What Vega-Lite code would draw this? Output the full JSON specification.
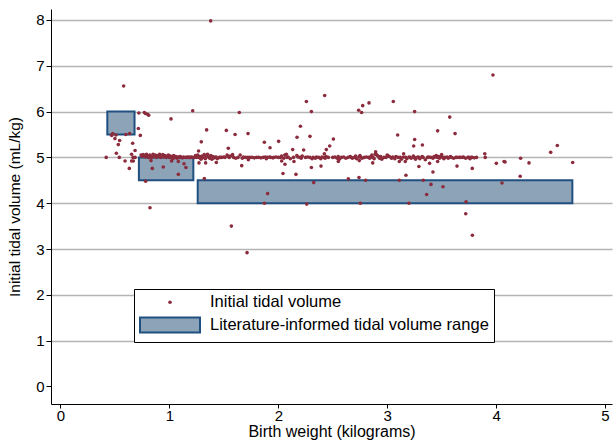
{
  "$schema": "https://vega.github.io/schema/vega-lite/v6.json",
  "width": 561,
  "height": 395,
  "autosize": {"type": "none"},
  "padding": {"left": 51, "top": 9, "right": 2, "bottom": 38},
  "background": "white",
  "config": {
    "view": {"stroke": null},
    "font": "Liberation Sans",
    "legend": {
      "orient": "none",
      "legendX": 83,
      "legendY": 280,
      "fillColor": "white",
      "strokeColor": "black",
      "padding": 5,
      "labelFont": "Liberation Sans",
      "labelFontSize": 16.5,
      "labelColor": "black",
      "labelLimit": 600,
      "symbolOffset": 20,
      "labelOffset": 29,
      "rowPadding": 2,
      "cornerRadius": 0
    }
  },
  "datasets": {
    "ranges": [
      {"x1": 0.43, "x2": 0.68, "y1": 5.5, "y2": 6.0},
      {"x1": 0.72, "x2": 1.22, "y1": 4.5, "y2": 5.0},
      {"x1": 1.26, "x2": 4.70, "y1": 4.0, "y2": 4.5}
    ],
    "pts": [
      {"x":0.74,"y":5.05},{"x":0.75,"y":5.02},{"x":0.76,"y":5.06},{"x":0.77,"y":5.04},{"x":0.78,"y":5.01},{"x":0.79,"y":5.07},{"x":0.80,"y":5.03},{"x":0.81,"y":5.0},{"x":0.82,"y":5.05},{"x":0.83,"y":5.02},{"x":0.84,"y":5.0},{"x":0.85,"y":5.07},{"x":0.86,"y":5.03},{"x":0.87,"y":5.05},{"x":0.88,"y":5.0},{"x":0.89,"y":5.04},{"x":0.90,"y":5.02},{"x":0.91,"y":5.07},{"x":0.92,"y":5.0},{"x":0.93,"y":5.03},{"x":0.94,"y":5.06},{"x":0.95,"y":5.01},{"x":0.96,"y":5.04},{"x":0.97,"y":5.0},{"x":0.98,"y":5.02},{"x":0.99,"y":5.05},{"x":1.00,"y":5.0},{"x":1.01,"y":5.03},{"x":1.02,"y":5.01},{"x":1.03,"y":4.97},{"x":1.04,"y":5.04},{"x":1.05,"y":5.0},{"x":1.06,"y":5.02},{"x":1.07,"y":4.98},{"x":1.08,"y":5.01},{"x":1.09,"y":5.0},{"x":1.10,"y":5.02},{"x":1.11,"y":5.0},{"x":1.12,"y":4.99},{"x":1.13,"y":5.01},{"x":1.15,"y":5.0},{"x":1.16,"y":5.0},{"x":1.17,"y":5.01},{"x":1.18,"y":5.0},{"x":1.19,"y":5.0},{"x":1.20,"y":5.01},{"x":1.21,"y":5.0},
      {"x":1.23,"y":5.0},{"x":1.24,"y":5.04},{"x":1.25,"y":5.0},{"x":1.26,"y":5.05},{"x":1.27,"y":5.0},{"x":1.28,"y":5.02},{"x":1.29,"y":4.96},{"x":1.30,"y":5.03},{"x":1.31,"y":5.0},{"x":1.32,"y":5.06},{"x":1.33,"y":4.97},{"x":1.34,"y":5.02},{"x":1.35,"y":5.07},{"x":1.36,"y":5.01},{"x":1.37,"y":4.98},{"x":1.38,"y":5.04},{"x":1.39,"y":4.96},{"x":1.40,"y":5.02},{"x":1.41,"y":4.99},{"x":1.42,"y":5.0},{"x":1.43,"y":5.01},{"x":1.44,"y":4.97},{"x":1.46,"y":5.0},{"x":1.47,"y":5.0},{"x":1.48,"y":5.0},{"x":1.50,"y":5.01},{"x":1.51,"y":5.0},{"x":1.53,"y":5.05},{"x":1.54,"y":5.02},{"x":1.55,"y":5.0},{"x":1.56,"y":5.03},{"x":1.58,"y":5.06},{"x":1.59,"y":5.0},{"x":1.61,"y":4.98},{"x":1.63,"y":5.0},{"x":1.65,"y":5.05},{"x":1.67,"y":4.98},{"x":1.68,"y":5.01},{"x":1.70,"y":5.0},{"x":1.72,"y":5.0},{"x":1.74,"y":5.0},{"x":1.76,"y":5.0},{"x":1.78,"y":4.99},{"x":1.80,"y":5.0},{"x":1.82,"y":5.0},{"x":1.84,"y":4.99},{"x":1.86,"y":5.0},{"x":1.88,"y":5.01},{"x":1.89,"y":4.97},{"x":1.90,"y":5.0},{"x":1.92,"y":5.01},{"x":1.93,"y":5.0},{"x":1.95,"y":4.99},{"x":1.96,"y":5.0},{"x":1.98,"y":5.01},
      {"x":2.00,"y":5.0},{"x":2.02,"y":5.0},{"x":2.03,"y":5.03},{"x":2.05,"y":4.98},{"x":2.06,"y":5.05},{"x":2.08,"y":5.0},{"x":2.09,"y":5.01},{"x":2.11,"y":4.97},{"x":2.14,"y":5.0},{"x":2.17,"y":5.04},{"x":2.18,"y":5.01},{"x":2.20,"y":5.0},{"x":2.21,"y":4.98},{"x":2.22,"y":5.03},{"x":2.25,"y":5.0},{"x":2.27,"y":5.01},{"x":2.29,"y":5.0},{"x":2.31,"y":4.97},{"x":2.32,"y":5.0},{"x":2.34,"y":4.98},{"x":2.35,"y":5.01},{"x":2.37,"y":5.0},{"x":2.39,"y":4.97},{"x":2.40,"y":5.01},{"x":2.42,"y":5.0},{"x":2.43,"y":4.98},{"x":2.44,"y":5.02},{"x":2.46,"y":5.0},{"x":2.50,"y":5.0},{"x":2.52,"y":5.01},{"x":2.54,"y":4.98},{"x":2.55,"y":5.02},{"x":2.56,"y":4.96},{"x":2.58,"y":5.0},{"x":2.60,"y":5.01},{"x":2.62,"y":4.98},{"x":2.64,"y":5.0},
      {"x":2.66,"y":5.02},{"x":2.67,"y":5.0},{"x":2.68,"y":4.98},{"x":2.70,"y":5.0},{"x":2.71,"y":5.03},{"x":2.72,"y":4.97},{"x":2.74,"y":5.01},{"x":2.75,"y":5.04},{"x":2.76,"y":5.0},{"x":2.77,"y":4.98},{"x":2.79,"y":5.0},{"x":2.81,"y":5.01},{"x":2.83,"y":5.0},{"x":2.84,"y":4.98},{"x":2.85,"y":5.02},{"x":2.86,"y":5.05},{"x":2.87,"y":5.0},{"x":2.88,"y":4.97},{"x":2.89,"y":5.07},{"x":2.90,"y":5.06},{"x":2.91,"y":5.04},{"x":2.92,"y":5.02},{"x":2.93,"y":4.98},{"x":2.94,"y":5.02},{"x":2.95,"y":4.96},{"x":2.97,"y":5.0},{"x":2.99,"y":5.0},{"x":3.00,"y":5.05},{"x":3.01,"y":5.03},{"x":3.02,"y":5.02},{"x":3.04,"y":4.98},{"x":3.05,"y":5.01},{"x":3.07,"y":4.97},{"x":3.08,"y":5.02},{"x":3.10,"y":5.0},{"x":3.12,"y":5.0},{"x":3.13,"y":4.96},{"x":3.15,"y":5.01},{"x":3.17,"y":5.0},{"x":3.18,"y":4.97},{"x":3.20,"y":5.01},{"x":3.21,"y":5.0},{"x":3.22,"y":4.98},{"x":3.24,"y":5.03},{"x":3.25,"y":5.0},{"x":3.26,"y":4.96},{"x":3.28,"y":5.01},{"x":3.29,"y":5.0},{"x":3.30,"y":4.97},{"x":3.32,"y":5.02},{"x":3.33,"y":5.0},{"x":3.35,"y":4.95},{"x":3.37,"y":5.0},{"x":3.38,"y":5.01},{"x":3.40,"y":5.0},{"x":3.42,"y":4.98},{"x":3.43,"y":5.02},
      {"x":3.44,"y":5.01},{"x":3.45,"y":5.04},{"x":3.46,"y":5.0},{"x":3.47,"y":5.02},{"x":3.48,"y":4.98},{"x":3.49,"y":5.02},{"x":3.50,"y":5.06},{"x":3.51,"y":5.0},{"x":3.52,"y":4.97},{"x":3.53,"y":5.0},{"x":3.55,"y":5.01},{"x":3.56,"y":4.98},{"x":3.58,"y":5.02},{"x":3.59,"y":5.0},{"x":3.61,"y":4.98},{"x":3.63,"y":5.0},{"x":3.64,"y":5.0},{"x":3.66,"y":5.0},{"x":3.67,"y":5.0},{"x":3.69,"y":5.0},{"x":3.70,"y":5.01},{"x":3.72,"y":4.98},{"x":3.74,"y":5.0},{"x":3.75,"y":5.0},{"x":3.76,"y":4.97},{"x":3.77,"y":5.0},{"x":3.78,"y":5.0},{"x":3.80,"y":4.99},{"x":3.82,"y":5.0},{"x":3.90,"y":5.0},
      {"x":0.58,"y":6.56},{"x":0.72,"y":5.97},{"x":0.77,"y":5.98},{"x":0.78,"y":5.96},{"x":0.80,"y":5.94},{"x":0.81,"y":5.92},{"x":1.015,"y":5.84},{"x":0.715,"y":5.63},{"x":0.733,"y":5.48},{"x":0.48,"y":5.52},{"x":0.47,"y":5.48},{"x":0.51,"y":5.49},{"x":0.50,"y":5.41},{"x":0.543,"y":5.37},{"x":0.531,"y":5.28},{"x":0.60,"y":5.50},{"x":0.635,"y":5.52},{"x":0.663,"y":5.31},{"x":0.685,"y":5.15},{"x":0.513,"y":5.09},{"x":0.653,"y":5.07},{"x":0.42,"y":5.0},{"x":0.54,"y":5.0},{"x":0.593,"y":4.92},{"x":0.632,"y":4.76},{"x":0.653,"y":4.92},{"x":0.669,"y":4.92},{"x":0.666,"y":5.0},{"x":0.685,"y":5.0},{"x":0.831,"y":4.93},{"x":0.843,"y":4.76},{"x":0.944,"y":4.79},{"x":0.782,"y":4.48},{"x":0.822,"y":3.90},{"x":1.082,"y":4.63},{"x":1.02,"y":4.92},{"x":1.082,"y":4.91},
      {"x":1.214,"y":6.02},{"x":1.642,"y":5.98},{"x":1.342,"y":5.60},{"x":1.523,"y":5.59},{"x":1.603,"y":5.50},{"x":1.722,"y":5.52},{"x":1.293,"y":5.34},{"x":1.541,"y":5.20},{"x":1.268,"y":5.14},{"x":1.872,"y":5.33},{"x":1.134,"y":4.86},{"x":1.152,"y":4.78},{"x":1.272,"y":4.88},{"x":1.333,"y":4.88},{"x":1.431,"y":4.89},{"x":1.664,"y":4.82},{"x":1.725,"y":4.95},{"x":1.321,"y":4.54},{"x":1.569,"y":3.50},{"x":1.713,"y":2.92},{"x":1.872,"y":4.0},
      {"x":2.426,"y":6.35},{"x":2.258,"y":6.22},{"x":2.304,"y":6.00},{"x":2.203,"y":5.68},{"x":2.172,"y":5.44},{"x":2.291,"y":5.46},{"x":2.506,"y":5.40},{"x":2.003,"y":5.35},{"x":1.924,"y":5.21},{"x":2.472,"y":5.25},{"x":2.441,"y":5.17},{"x":2.233,"y":5.16},{"x":2.132,"y":5.17},{"x":2.423,"y":5.08},{"x":2.074,"y":5.07},{"x":2.031,"y":4.92},{"x":2.061,"y":4.85},{"x":2.144,"y":4.91},{"x":2.551,"y":4.91},{"x":2.043,"y":4.65},{"x":2.162,"y":4.63},{"x":2.304,"y":4.78},{"x":2.392,"y":4.81},{"x":2.643,"y":4.53},{"x":2.325,"y":4.45},{"x":1.902,"y":4.21},{"x":2.261,"y":3.98},
      {"x":2.738,"y":6.03},{"x":2.775,"y":6.13},{"x":2.765,"y":5.98},{"x":2.833,"y":6.19},{"x":3.056,"y":6.22},{"x":3.252,"y":6.0},{"x":3.096,"y":5.49},{"x":3.252,"y":5.39},{"x":3.243,"y":5.25},{"x":3.323,"y":5.27},{"x":3.151,"y":5.08},{"x":2.894,"y":5.12},{"x":2.744,"y":4.93},{"x":2.867,"y":4.88},{"x":3.111,"y":4.91},{"x":3.166,"y":4.91},{"x":3.389,"y":4.87},{"x":3.291,"y":4.80},{"x":3.420,"y":4.68},{"x":3.172,"y":4.61},{"x":2.741,"y":4.56},{"x":2.802,"y":4.50},{"x":3.111,"y":4.50},{"x":3.331,"y":4.50},{"x":3.402,"y":4.41},{"x":3.362,"y":4.19},{"x":2.753,"y":4.0},{"x":3.200,"y":4.0},
      {"x":3.574,"y":5.88},{"x":3.463,"y":5.58},{"x":3.623,"y":5.52},{"x":3.896,"y":5.08},{"x":3.463,"y":4.91},{"x":3.641,"y":4.81},{"x":3.781,"y":4.76},{"x":4.002,"y":4.87},{"x":4.073,"y":4.91},{"x":4.082,"y":4.90},{"x":4.221,"y":4.59},{"x":3.512,"y":4.36},{"x":4.054,"y":4.44},{"x":3.724,"y":4.03},{"x":3.721,"y":3.77},{"x":3.782,"y":3.30},
      {"x":4.562,"y":5.26},{"x":4.501,"y":5.11},{"x":4.225,"y":4.98},{"x":4.302,"y":4.88},{"x":4.703,"y":4.89},
      {"x":1.379,"y":7.98},{"x":3.971,"y":6.80}
    ]
  },
  "layer": [
    {
      "data": {"name": "ranges"},
      "mark": {"type": "rect"},
      "encoding": {
        "x": {
          "field": "x1", "type": "quantitative",
          "scale": {"domain": [-0.087, 5.064], "nice": false, "zero": false},
          "axis": {
            "values": [0, 1, 2, 3, 4, 5], "format": "d",
            "title": "Birth weight (kilograms)",
            "grid": false, "tickSize": 4, "tickColor": "black", "domainColor": "black",
            "labelFontSize": 15, "labelColor": "black", "labelPadding": 0,
            "titleFontSize": 16, "titleColor": "black", "titleFontWeight": "normal", "titlePadding": 0
          }
        },
        "x2": {"field": "x2"},
        "y": {
          "field": "y1", "type": "quantitative",
          "scale": {"domain": [-0.384, 8.24], "nice": false, "zero": false},
          "axis": {
            "values": [0, 1, 2, 3, 4, 5, 6, 7, 8], "format": "d",
            "title": "Initial tidal volume (mL/kg)",
            "grid": true,
            "gridColor": {"condition": {"test": "datum.value == 0", "value": "transparent"}, "value": "#b4b4b4"},
            "gridWidth": 1.3,
            "tickSize": 5, "tickColor": "black", "domainColor": "black",
            "labelFontSize": 15, "labelColor": "black", "labelPadding": 2,
            "titleFontSize": 15.5, "titleColor": "black", "titleFontWeight": "normal", "titlePadding": 13
          }
        },
        "y2": {"field": "y2"},
        "color": {
          "datum": "Literature-informed tidal volume range",
          "scale": {"domain": ["Initial tidal volume", "Literature-informed tidal volume range"], "range": ["#8b2b3c", "#8da3b7"]},
          "legend": {"title": null}
        },
        "stroke": {
          "datum": "Literature-informed tidal volume range",
          "scale": {"domain": ["Initial tidal volume", "Literature-informed tidal volume range"], "range": ["#8b2b3c", "#1f5080"]},
          "legend": {"title": null}
        },
        "strokeWidth": {
          "datum": "Literature-informed tidal volume range",
          "scale": {"domain": ["Initial tidal volume", "Literature-informed tidal volume range"], "range": [0, 2]},
          "legend": {"title": null}
        }
      }
    },
    {
      "data": {"name": "pts"},
      "mark": {"type": "point", "filled": true, "opacity": 1},
      "encoding": {
        "x": {"field": "x", "type": "quantitative"},
        "y": {"field": "y", "type": "quantitative"},
        "color": {"datum": "Initial tidal volume", "legend": {"title": null}},
        "stroke": {"datum": "Initial tidal volume", "legend": {"title": null}},
        "strokeWidth": {"datum": "Initial tidal volume", "legend": {"title": null}},
        "shape": {
          "datum": "Initial tidal volume",
          "scale": {"domain": ["Initial tidal volume", "Literature-informed tidal volume range"], "range": ["circle", "M-3,-0.75H3V0.75H-3Z"]},
          "legend": {"title": null}
        },
        "size": {
          "datum": "Initial tidal volume",
          "scale": {"domain": ["Initial tidal volume", "Literature-informed tidal volume range"], "range": [13, 400]},
          "legend": {"title": null}
        }
      }
    }
  ]
}
